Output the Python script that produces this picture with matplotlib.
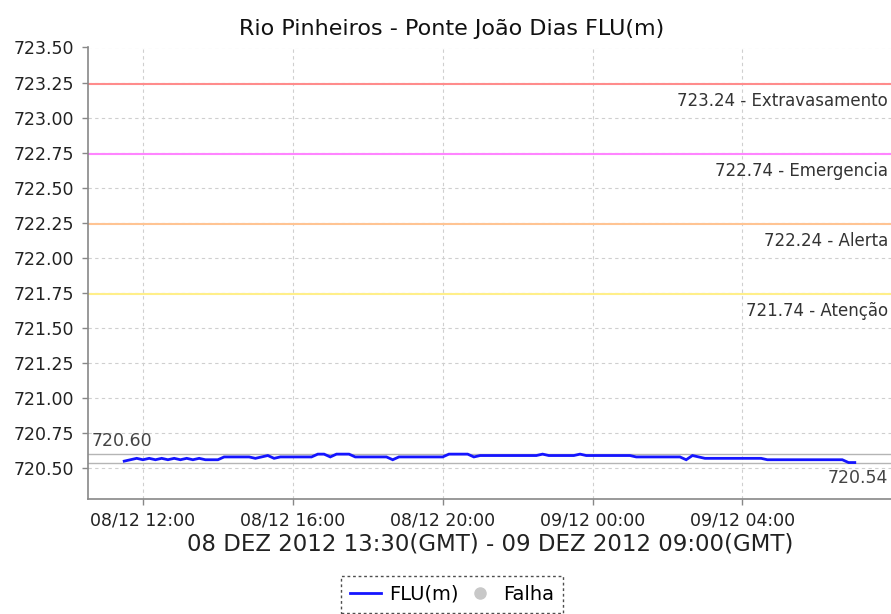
import matplotlib
matplotlib.use("Agg")
import matplotlib.pyplot as plt
import matplotlib.dates as mdates
from matplotlib.lines import Line2D
import pandas as pd

# ---------------- data ----------------
title = "Rio Pinheiros - Ponte João Dias FLU(m)"
xlabel = "08 DEZ 2012 13:30(GMT) - 09 DEZ 2012 09:00(GMT)"
start_time = "2012-12-08 11:30"
step = "10min"

flu_values = [
    720.55, 720.56,
    720.57, 720.56, 720.57, 720.56, 720.57, 720.56, 720.57, 720.56,
    720.57, 720.56, 720.57, 720.56, 720.56, 720.56,
    720.58, 720.58, 720.58, 720.58, 720.58, 720.57, 720.58, 720.59, 720.57,
    720.58, 720.58, 720.58, 720.58, 720.58, 720.58,
    720.60, 720.60, 720.58, 720.60, 720.60, 720.60,
    720.58, 720.58, 720.58, 720.58, 720.58, 720.58, 720.56,
    720.58, 720.58, 720.58, 720.58, 720.58, 720.58, 720.58, 720.58,
    720.60, 720.60, 720.60, 720.60, 720.58,
    720.59, 720.59, 720.59, 720.59, 720.59, 720.59, 720.59, 720.59, 720.59, 720.59,
    720.60, 720.59, 720.59, 720.59, 720.59, 720.59, 720.60,
    720.59, 720.59, 720.59, 720.59, 720.59, 720.59, 720.59, 720.59,
    720.58, 720.58, 720.58, 720.58, 720.58, 720.58, 720.58, 720.58,
    720.56, 720.59, 720.58,
    720.57, 720.57, 720.57, 720.57, 720.57, 720.57, 720.57, 720.57, 720.57, 720.57,
    720.56, 720.56, 720.56, 720.56, 720.56, 720.56, 720.56, 720.56, 720.56, 720.56,
    720.56, 720.56, 720.56,
    720.54, 720.54,
]

threshold_values = [723.24, 722.74, 722.24, 721.74]
threshold_names = ["Extravasamento", "Emergencia", "Alerta", "Atenção"]
threshold_colors = ["#ff8c8c", "#ff85ff", "#ffc493", "#ffef8a"]

max_value = 720.60
min_value = 720.54

y_ticks = [720.50, 720.75, 721.00, 721.25, 721.50, 721.75, 722.00, 722.25,
           722.50, 722.75, 723.00, 723.25, 723.50]
y_limits = (720.28, 723.50)
x_limits = ("2012-12-08 10:32", "2012-12-09 07:58")

# ---------------- figure ----------------
times = pd.date_range(start_time, periods=len(flu_values), freq=step)

fig = plt.figure(figsize=(8.91, 6.14), dpi=100)
ax = fig.add_axes([88 / 891, 1 - 499 / 614, 1 - 88 / 891, (499 - 47.5) / 614])

grid_kw = dict(color="#cfcfcf", linewidth=0.8, linestyle=(0, (3, 3)))
ax.grid(True, **grid_kw)
ax.set_axisbelow(True)

for val, name, col in zip(threshold_values, threshold_names, threshold_colors):
    ax.axhline(val, color=col, linewidth=1.5, zorder=2)
    ax.annotate(f"{val:.2f} - {name}", xy=(0.996, val),
                xycoords=("axes fraction", "data"),
                xytext=(0, -5.5), textcoords="offset points",
                ha="right", va="top", fontsize=12, color="#333333")

ax.axhline(max_value, color="#b5b5b5", linewidth=1.0, zorder=2)
ax.axhline(min_value, color="#b5b5b5", linewidth=1.0, zorder=2)
ax.annotate(f"{max_value:.2f}", xy=(0.005, max_value),
            xycoords=("axes fraction", "data"), xytext=(0, 3),
            textcoords="offset points", ha="left", va="bottom",
            fontsize=12.5, color="#444444")
ax.annotate(f"{min_value:.2f}", xy=(0.996, min_value),
            xycoords=("axes fraction", "data"), xytext=(0, -5),
            textcoords="offset points", ha="right", va="top",
            fontsize=12.5, color="#444444")

ax.plot(times, flu_values, color="#1515ff", linewidth=2.0, zorder=3,
        solid_joinstyle="miter")

ax.set_ylim(*y_limits)
ax.set_yticks(y_ticks)
ax.set_yticklabels([f"{v:.2f}" for v in y_ticks])
ax.set_xlim(pd.Timestamp(x_limits[0]), pd.Timestamp(x_limits[1]))
ax.xaxis.set_major_locator(mdates.HourLocator(byhour=[0, 4, 8, 12, 16, 20]))
ax.xaxis.set_major_formatter(mdates.DateFormatter("%d/%m %H:%M"))

for s in ["top", "right"]:
    ax.spines[s].set_visible(False)
for s in ["left", "bottom"]:
    ax.spines[s].set_color("#888888")
    ax.spines[s].set_linewidth(1.2)
ax.tick_params(axis="both", colors="#888888", length=4, width=1,
               labelcolor="#222222", labelsize=12.5)
ax.tick_params(axis="y", pad=6)
ax.tick_params(axis="x", pad=5)

fig.text(452 / 891, 1 - 29 / 614, title, fontsize=16, color="#111111",
         ha="center", va="center")
ax.set_xlabel(xlabel, fontsize=16.5, color="#222222", labelpad=3)
ax.xaxis.set_label_coords((490 - 88) / 803, -(544 - 499) / 451.5)
ax.xaxis.label.set_va("center")

handles = [
    Line2D([], [], color="#1515ff", linewidth=2),
    Line2D([], [], color="#c8c8c8", marker="o", linestyle="none", markersize=8),
]
leg = fig.legend(handles, ["FLU(m)", "Falha"], loc="upper center",
                 bbox_to_anchor=(452 / 891, 1 - 576 / 614), ncol=2,
                 frameon=True, fancybox=False, fontsize=14,
                 handlelength=1.6, handletextpad=0.4, columnspacing=0.3,
                 borderpad=0.45, borderaxespad=0)
frame = leg.get_frame()
frame.set_edgecolor("#222222")
frame.set_linestyle((0, (2, 2)))
frame.set_linewidth(1.0)

fig.savefig("out.png", dpi=100)
